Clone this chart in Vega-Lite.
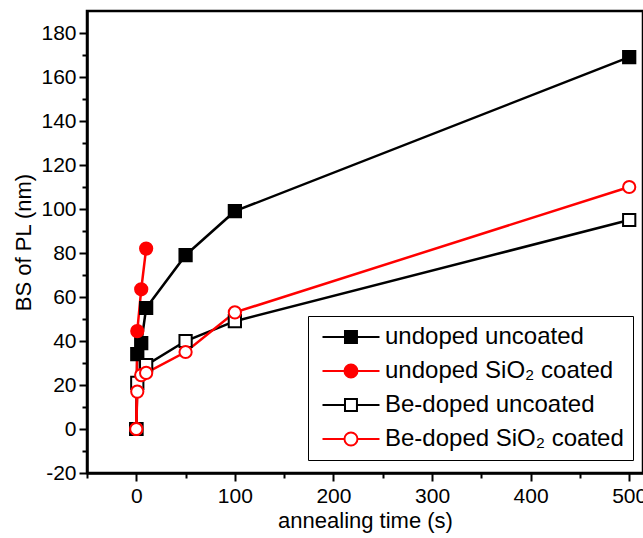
{
  "$schema": "https://vega.github.io/schema/vega-lite/v6.json",
  "width": 556,
  "height": 462,
  "autosize": "none",
  "padding": {"left": 87, "top": 11, "right": 0, "bottom": 65},
  "background": "white",
  "config": {
    "font": "Liberation Sans",
    "view": {"stroke": "black", "strokeWidth": 2.5},
    "axis": {
      "grid": false,
      "domainColor": "black",
      "domainWidth": 2.5,
      "tickColor": "black",
      "tickWidth": 2,
      "labelColor": "black",
      "titleColor": "black",
      "labelFont": "Liberation Sans",
      "titleFont": "Liberation Sans",
      "labelFontSize": 21,
      "titleFontSize": 22,
      "titleFontWeight": "normal"
    }
  },
  "data": {
    "values": [
      {"t": 0, "bs": 0, "series": "undoped uncoated"},
      {"t": 1, "bs": 34, "series": "undoped uncoated"},
      {"t": 5, "bs": 39, "series": "undoped uncoated"},
      {"t": 10, "bs": 55, "series": "undoped uncoated"},
      {"t": 50, "bs": 79, "series": "undoped uncoated"},
      {"t": 100, "bs": 99, "series": "undoped uncoated"},
      {"t": 500, "bs": 169, "series": "undoped uncoated"},
      {"t": 0, "bs": 0, "series": "Be-doped uncoated"},
      {"t": 1, "bs": 21, "series": "Be-doped uncoated"},
      {"t": 10, "bs": 29, "series": "Be-doped uncoated"},
      {"t": 50, "bs": 40, "series": "Be-doped uncoated"},
      {"t": 100, "bs": 49, "series": "Be-doped uncoated"},
      {"t": 500, "bs": 95, "series": "Be-doped uncoated"},
      {"t": 0, "bs": 0, "series": "undoped SiO₂ coated"},
      {"t": 1, "bs": 44.5, "series": "undoped SiO₂ coated"},
      {"t": 5, "bs": 63.5, "series": "undoped SiO₂ coated"},
      {"t": 10, "bs": 82, "series": "undoped SiO₂ coated"},
      {"t": 0, "bs": 0, "series": "Be-doped SiO₂ coated"},
      {"t": 1, "bs": 17, "series": "Be-doped SiO₂ coated"},
      {"t": 5, "bs": 24.5, "series": "Be-doped SiO₂ coated"},
      {"t": 10, "bs": 25.5, "series": "Be-doped SiO₂ coated"},
      {"t": 50, "bs": 35, "series": "Be-doped SiO₂ coated"},
      {"t": 100, "bs": 53, "series": "Be-doped SiO₂ coated"},
      {"t": 500, "bs": 110, "series": "Be-doped SiO₂ coated"}
    ]
  },
  "encoding": {
    "x": {
      "field": "t",
      "type": "quantitative",
      "scale": {"domain": [-50, 514], "nice": false, "zero": false},
      "axis": {
        "title": "annealing time (s)",
        "values": [-50, 0, 50, 100, 150, 200, 250, 300, 350, 400, 450, 500],
        "labelExpr": "datum.value % 100 === 0 ? '' + datum.value : ''",
        "tickSize": {"condition": {"test": "datum.value % 100 === 0", "value": 8}, "value": 5},
        "labelPadding": 4,
        "titlePadding": 4
      }
    },
    "y": {
      "field": "bs",
      "type": "quantitative",
      "scale": {"domain": [-20, 190], "nice": false, "zero": false},
      "axis": {
        "title": "BS of PL (nm)",
        "values": [-20, -10, 0, 10, 20, 30, 40, 50, 60, 70, 80, 90, 100, 110, 120, 130, 140, 150, 160, 170, 180],
        "labelExpr": "datum.value % 20 === 0 ? '' + datum.value : ''",
        "tickSize": {"condition": {"test": "datum.value % 20 === 0", "value": 8}, "value": 5},
        "labelPadding": 3,
        "titlePadding": 5
      }
    }
  },
  "layer": [
    {
      "mark": {"type": "line", "strokeWidth": 2.5},
      "encoding": {
        "stroke": {
          "field": "series",
          "type": "nominal",
          "scale": {
            "domain": ["undoped uncoated", "undoped SiO₂ coated", "Be-doped uncoated", "Be-doped SiO₂ coated"],
            "range": ["black", "red", "black", "red"]
          },
          "legend": null
        }
      }
    },
    {
      "mark": {"type": "point", "filled": true, "size": 150, "strokeWidth": 2, "opacity": 1},
      "encoding": {
        "shape": {
          "field": "series",
          "type": "nominal",
          "scale": {
            "domain": ["undoped uncoated", "undoped SiO₂ coated", "Be-doped uncoated", "Be-doped SiO₂ coated"],
            "range": ["square", "circle", "square", "circle"]
          },
          "legend": null
        },
        "fill": {
          "field": "series",
          "type": "nominal",
          "scale": {
            "domain": ["undoped uncoated", "undoped SiO₂ coated", "Be-doped uncoated", "Be-doped SiO₂ coated"],
            "range": ["black", "red", "white", "white"]
          },
          "legend": null
        },
        "stroke": {
          "field": "series",
          "type": "nominal",
          "scale": {
            "domain": ["undoped uncoated", "undoped SiO₂ coated", "Be-doped uncoated", "Be-doped SiO₂ coated"],
            "range": ["black", "red", "black", "red"]
          },
          "legend": null
        }
      }
    },
    {
      "mark": {"type": "point", "filled": true, "size": 169, "strokeWidth": 2, "opacity": 0},
      "encoding": {
        "shape": {
          "field": "series",
          "type": "nominal",
          "scale": {
            "domain": ["undoped uncoated", "undoped SiO₂ coated", "Be-doped uncoated", "Be-doped SiO₂ coated"],
            "range": [
              "M-1,0H2.46M4.3,0H7.77M2.46,-0.92H4.3V0.92H2.46Z",
              "M-1,0H2.38M4.38,0H7.77M2.38,0A1,1 0 1,0 4.38,0A1,1 0 1,0 2.38,0Z",
              "M-1,0H2.46M4.3,0H7.77M2.46,-0.92H4.3V0.92H2.46Z",
              "M-1,0H2.38M4.38,0H7.77M2.38,0A1,1 0 1,0 4.38,0A1,1 0 1,0 2.38,0Z"
            ]
          },
          "legend": {
            "title": null,
            "orient": "none",
            "legendX": 221,
            "legendY": 305,
            "strokeColor": "black",
            "padding": 9,
            "labelFont": "Liberation Sans",
            "labelFontSize": 24,
            "labelColor": "black",
            "labelOffset": 44,
            "rowPadding": 10,
            "symbolSize": 169,
            "symbolStrokeWidth": 2,
            "symbolOpacity": 1,
            "labelLimit": 400
          }
        },
        "fill": {
          "field": "series",
          "type": "nominal",
          "scale": {
            "domain": ["undoped uncoated", "undoped SiO₂ coated", "Be-doped uncoated", "Be-doped SiO₂ coated"],
            "range": ["black", "red", "white", "white"]
          }
        },
        "stroke": {
          "field": "series",
          "type": "nominal",
          "scale": {
            "domain": ["undoped uncoated", "undoped SiO₂ coated", "Be-doped uncoated", "Be-doped SiO₂ coated"],
            "range": ["black", "red", "black", "red"]
          }
        }
      }
    }
  ],
  "resolve": {"scale": {"shape": "independent", "fill": "independent", "stroke": "independent"}}
}
